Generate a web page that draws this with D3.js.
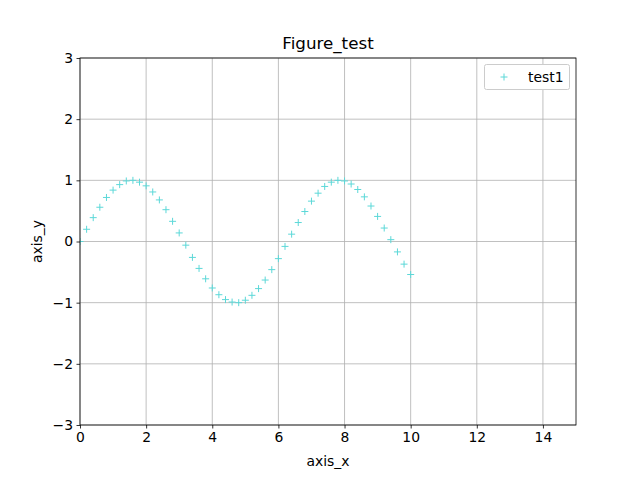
<!DOCTYPE html>
<html><head><meta charset="utf-8">
<script src="https://cdn.jsdelivr.net/npm/d3@7"></script>
<style>body{margin:0;background:#fff}text{font-family:"DejaVu Sans",sans-serif}</style>
</head><body><svg id="c" width="640" height="478"></svg>
<script>
const xs=[0.0,0.2,0.4,0.6,0.8,1.0,1.2,1.4,1.6,1.8,2.0,2.2,2.4,2.6,2.8,3.0,3.2,3.4,3.6,3.8,4.0,4.2,4.4,4.6,4.8,5.0,5.2,5.4,5.6,5.8,6.0,6.2,6.4,6.6,6.8,7.0,7.2,7.4,7.6,7.8,8.0,8.2,8.4,8.6,8.8,9.0,9.2,9.4,9.6,9.8,10.0];
const ys=[0.00,0.20,0.39,0.56,0.72,0.84,0.93,0.99,1.00,0.97,0.91,0.81,0.68,0.52,0.33,0.14,-0.06,-0.26,-0.44,-0.61,-0.76,-0.87,-0.95,-0.99,-1.00,-0.96,-0.88,-0.77,-0.63,-0.46,-0.28,-0.08,0.12,0.31,0.49,0.66,0.79,0.90,0.97,1.00,0.99,0.94,0.85,0.73,0.58,0.41,0.22,0.03,-0.17,-0.37,-0.54];
const xTicks=[0,2,4,6,8,10,12,14];
const yTicks=[-3,-2,-1,0,1,2,3];
const svg=d3.select("#c");
const L=80,R=576,T=58,B=425;
const x=d3.scaleLinear().domain([0,15]).range([L,R]);
const y=d3.scaleLinear().domain([-3,3]).range([B,T]);
const g=svg.append("g");
g.selectAll(".gx").data(xTicks).enter().append("line").attr("x1",d=>x(d)).attr("x2",d=>x(d)).attr("y1",T).attr("y2",B).attr("stroke","#b0b0b0").attr("stroke-width",0.8);
g.selectAll(".gy").data(yTicks).enter().append("line").attr("y1",d=>y(d)).attr("y2",d=>y(d)).attr("x1",L).attr("x2",R).attr("stroke","#b0b0b0").attr("stroke-width",0.8);
const fmt=d=>d<0?"\u2212"+(-d):""+d;
const ax=svg.append("g").attr("transform",`translate(0,${B})`).call(d3.axisBottom(x).tickValues(xTicks).tickFormat(fmt).tickSize(3.5).tickPadding(3.5));
const ay=svg.append("g").attr("transform",`translate(${L},0)`).call(d3.axisLeft(y).tickValues(yTicks).tickFormat(fmt).tickSize(3.5).tickPadding(3.5));
[ax,ay].forEach(a=>{a.select(".domain").remove();a.selectAll("text").attr("font-size",13.9).attr("font-family","DejaVu Sans").attr("fill","#000");a.selectAll("line").attr("stroke","#000").attr("stroke-width",0.8);});
const col="#5cd8d8";
const plus=(sel)=>{sel.append("line").attr("x1",-3.5).attr("x2",3.5).attr("stroke",col);sel.append("line").attr("y1",-3.5).attr("y2",3.5).attr("stroke",col);};
const clip=svg.append("clipPath").attr("id","cl").append("rect").attr("x",L).attr("y",T).attr("width",R-L).attr("height",B-T);
svg.append("g").attr("clip-path","url(#cl)").selectAll(".p").data(xs.map((v,i)=>[v,ys[i]])).enter().append("g").attr("transform",d=>`translate(${x(d[0])},${y(d[1])})`).call(plus);
svg.append("rect").attr("x",L).attr("y",T).attr("width",R-L).attr("height",B-T).attr("fill","none").attr("stroke","#000").attr("stroke-width",0.8);
svg.append("text").attr("x",(L+R)/2).attr("y",49).attr("text-anchor","middle").attr("font-size",16.7).text("Figure_test");
svg.append("text").attr("x",(L+R)/2).attr("y",466).attr("text-anchor","middle").attr("font-size",13.9).text("axis_x");
svg.append("text").attr("transform",`translate(42,${(T+B)/2}) rotate(-90)`).attr("text-anchor","middle").attr("font-size",13.9).text("axis_y");
svg.append("rect").attr("x",484.5).attr("y",64.5).attr("width",85).attr("height",25).attr("rx",2).attr("fill","#fff").attr("stroke","#ccc");
svg.append("g").attr("transform","translate(504,77)").call(plus);
svg.append("text").attr("x",528).attr("y",82).attr("font-size",13.9).text("test1");
</script></body></html>
